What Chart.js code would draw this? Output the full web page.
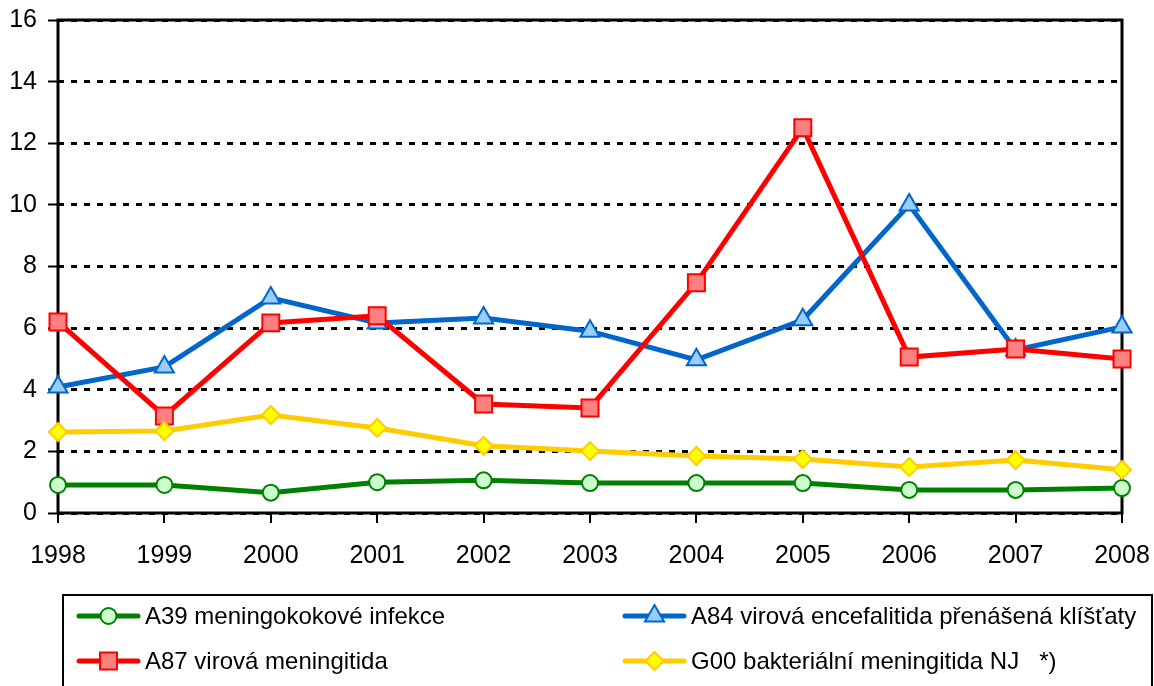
<!DOCTYPE html>
<html>
<head>
<meta charset="utf-8">
<script src="https://cdn.jsdelivr.net/npm/chart.js@4/dist/chart.umd.min.js"></script>
<style>
  html, body { margin: 0; padding: 0; background: #fff; }
  #wrap { width: 1154px; height: 686px; position: relative; }
</style>
</head>
<body>
<div id="wrap"><canvas id="chart"></canvas></div>
<script>
// Years on the x axis
const years = ['1998', '1999', '2000', '2001', '2002', '2003', '2004', '2005', '2006', '2007', '2008'];

// Series values
const a39 = [0.91, 0.91, 0.66, 1.0, 1.06, 0.97, 0.97, 0.97, 0.75, 0.75, 0.81];
const a84 = [4.09, 4.74, 6.98, 6.17, 6.33, 5.9, 4.97, 6.27, 10.0, 5.29, 6.04];
const a87 = [6.2, 3.15, 6.17, 6.4, 3.54, 3.41, 7.47, 12.5, 5.06, 5.32, 5.0];
const g00 = [2.63, 2.66, 3.18, 2.76, 2.18, 2.01, 1.85, 1.75, 1.49, 1.72, 1.4];

const labels = [
    'A39 meningokokové infekce',
    'A84 virová encefalitida přenášená klíšťaty',
    'A87 virová meningitida',
    'G00 bakteriální meningitida NJ   *)'
];

// Y axis range
const yMin = 0, yMax = 16, yStep = 2;

const FONT = '"Liberation Sans", Arial, sans-serif';

function series(label, data, line, fill, style, radius, order) {
    return {
        label: label,
        data: data,
        order: order,   // later series drawn on top, as in the original
        borderColor: line,
        backgroundColor: fill,
        borderWidth: 5,
        pointStyle: style,
        pointRadius: radius,
        pointHoverRadius: radius,
        pointBorderColor: line,
        pointBackgroundColor: fill,
        pointBorderWidth: 2,
        tension: 0
    };
}

// Draws the plot frame and solid axis lines
const framePlugin = {
    id: 'frame',
    beforeDatasetsDraw(chart) {
        const { ctx, chartArea: a } = chart;
        ctx.save();
        ctx.strokeStyle = '#000';
        ctx.lineWidth = 3;
        ctx.beginPath();
        ctx.moveTo(a.left, a.bottom);
        ctx.lineTo(a.left, a.top);
        ctx.lineTo(a.right, a.top);
        ctx.lineTo(a.right, a.bottom);
        ctx.lineTo(a.left, a.bottom);
        ctx.stroke();
        ctx.restore();
    }
};

// Two-column boxed legend under the chart
const legendPlugin = {
    id: 'boxLegend',
    afterDraw(chart) {
        const ctx = chart.ctx;
        ctx.save();
        ctx.strokeStyle = '#000';
        ctx.lineWidth = 2;
        ctx.strokeRect(63, 595, 1089, 100);

        const cols = [79, 625];
        const rows = [616, 661];
        const order = [0, 2, 1, 3];   // A39, A87 left; A84, G00 right
        ctx.font = '24px ' + FONT;
        ctx.textBaseline = 'middle';
        order.forEach((di, k) => {
            const ds = chart.data.datasets[di];
            const x = cols[Math.floor(k / 2)];
            const y = rows[k % 2];
            ctx.strokeStyle = ds.borderColor;
            ctx.lineWidth = 5;
            ctx.lineCap = 'round';
            ctx.beginPath();
            ctx.moveTo(x, y);
            ctx.lineTo(x + 59, y);
            ctx.stroke();
            ctx.lineCap = 'butt';
            ctx.fillStyle = ds.pointBackgroundColor;
            ctx.strokeStyle = ds.pointBorderColor;
            ctx.lineWidth = 2;
            Chart.helpers.drawPoint(ctx, {
                pointStyle: ds.pointStyle,
                radius: ds.pointRadius,
                rotation: 0,
                borderWidth: 2
            }, x + 29.5, y);
            ctx.fillStyle = '#000';
            ctx.fillText(ds.label, x + 66, y + 1);
        });
        ctx.restore();
    }
};

const ctx = document.getElementById('chart').getContext('2d');
new Chart(ctx, {
    type: 'line',
    data: {
        labels: years,
        datasets: [
            series(labels[0], a39, '#008000', '#ccffcc', 'circle', 8, 4),
            series(labels[1], a84, '#0066cc', '#99ccff', 'triangle', 11, 3),
            series(labels[2], a87, '#ff0000', '#ff8080', 'rect', 12, 2),
            series(labels[3], g00, '#ffcc00', '#ffff00', 'rectRot', 9, 1)
        ]
    },
    options: {
        responsive: true,
        maintainAspectRatio: false,
        animation: false,
        layout: { autoPadding: false, padding: { top: 20, right: 32, bottom: 117, left: 0 } },
        scales: {
            x: {
                offset: false,
                ticks: { color: '#000', font: { family: FONT, size: 25 }, padding: 18, maxRotation: 0, autoSkip: false },
                grid: { drawOnChartArea: false, color: '#000', tickLength: 10, tickWidth: 2, lineWidth: 2 },
                border: { display: false },
                afterFit(scale) {
                    scale.height = 56;
                    scale.paddingLeft = 0;
                    scale.paddingRight = 0;
                }
            },
            y: {
                min: yMin,
                max: yMax,
                ticks: { stepSize: yStep, color: '#000', font: { family: FONT, size: 25 }, padding: 11 },
                grid: { color: '#000', lineWidth: 3, tickLength: 10, tickWidth: 2, tickBorderDash: [] },
                border: { display: false, dash: [6, 7] },
                afterFit(scale) {
                    scale.width = 58;
                    scale.paddingTop = 0;
                    scale.paddingBottom = 0;
                }
            }
        },
        plugins: {
            legend: { display: false },
            tooltip: { enabled: false }
        }
    },
    plugins: [framePlugin, legendPlugin]
});
</script>
</body>
</html>
